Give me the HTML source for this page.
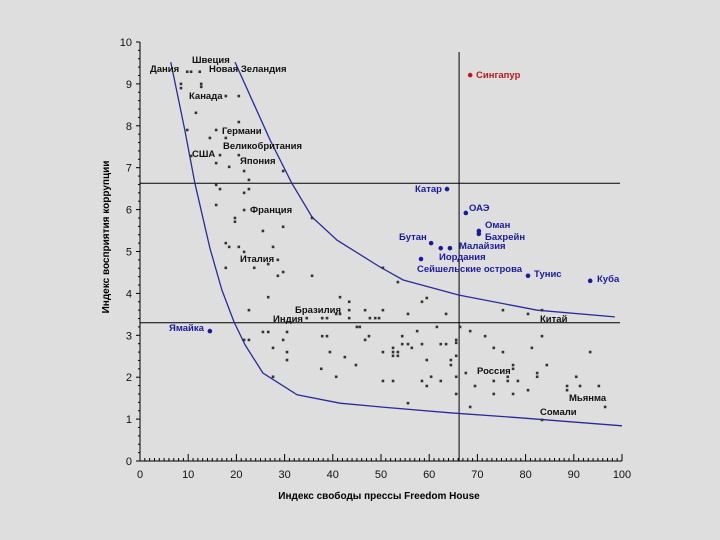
<!DOCTYPE html>
<html><head><meta charset="utf-8"><style>
html,body{margin:0;padding:0;background:#dedede;}
svg{display:block;font-family:"Liberation Sans",sans-serif;}
.lb{font-size:9.5px;font-weight:bold;fill:#111;}
.bl{font-size:9.5px;font-weight:bold;fill:#1a1aa0;}
.tk{font-size:11px;fill:#111;}
</style></head><body>
<svg id="chart" width="720" height="540" viewBox="0 0 720 540">
<rect x="0" y="0" width="720" height="540" fill="#dedede"/>
<g id="axes"></g><g id="curves"></g><g id="pts"></g>
<g>
<text class="lb" x="192" y="63">Швеция</text>
<text class="lb" x="150" y="72">Дания</text>
<text class="lb" x="209" y="72">Новая Зеландия</text>
<text class="lb" x="189" y="99">Канада</text>
<text class="lb" x="222" y="134">Германи</text>
<text class="lb" x="223" y="149">Великобритания</text>
<text class="lb" x="192" y="157">США</text>
<text class="lb" x="240" y="164">Япония</text>
<text class="lb" x="250" y="213">Франция</text>
<text class="lb" x="240" y="262">Италия</text>
<text class="lb" x="295" y="313">Бразилия</text>
<text class="lb" x="273" y="322">Индия</text>
<text class="lb" x="540" y="322">Китай</text>
<text class="lb" x="477" y="374">Россия</text>
<text class="lb" x="569" y="401">Мьянма</text>
<text class="lb" x="540" y="415">Сомали</text>
<text class="bl" x="476" y="78" style="fill:#c01818">Сингапур</text>
<text class="bl" x="415" y="192">Катар</text>
<text class="bl" x="469" y="211">ОАЭ</text>
<text class="bl" x="485" y="228">Оман</text>
<text class="bl" x="485" y="240">Бахрейн</text>
<text class="bl" x="399" y="240">Бутан</text>
<text class="bl" x="459" y="249">Малайзия</text>
<text class="bl" x="439" y="260">Иордания</text>
<text class="bl" x="417" y="272">Сейшельские острова</text>
<text class="bl" x="534" y="277">Тунис</text>
<text class="bl" x="597" y="282">Куба</text>
<text class="bl" x="169" y="331">Ямайка</text>
</g>
<text x="379" y="499" text-anchor="middle" style="font-size:10px;font-weight:bold">Индекс свободы прессы Freedom House</text>
<text transform="translate(109,237) rotate(-90)" text-anchor="middle" style="font-size:10px;font-weight:bold">Индекс восприятия коррупции</text>
</svg>
<script>
const xTicks=[0,10,20,30,40,50,60,70,80,90,100];
const yTicks=[0,1,2,3,4,5,6,7,8,9,10];
const refX=[66.2];
const refY=[6.63,3.3];
const leftCurveX=[6.4,9.3,11.4,14.5,17.0,19.5,21.8,25.5,32.6,41.5,49.8,64.3,78.8,100];
const leftCurveY=[9.52,7.9,6.63,5.08,4.08,3.32,2.77,2.10,1.58,1.38,1.29,1.15,1.03,0.84];
const rightCurveX=[19.7,27.0,31.5,35.7,40.9,49.8,54.6,66.2,82.4,98.5];
const rightCurveY=[9.52,7.66,6.63,5.82,5.27,4.63,4.32,3.96,3.60,3.44];
const ptsX=[9.8,10.6,12.4,8.5,8.5,12.7,12.7,17.8,20.5,11.6,9.8,15.8,20.5,14.5,17.8,10.6,16.6,15.8,20.5,18.5,21.6,29.7,22.6,15.8,16.6,22.6,21.6,15.8,21.6,35.7,19.7,19.7,25.5,29.7,17.8,18.5,20.5,27.6,21.6,28.6,17.8,23.7,26.6,29.7,28.6,35.7,26.6,41.5,43.4,22.6,43.4,40.7,41.5,46.7,34.6,37.8,38.8,43.4,47.7,48.8,49.6,25.5,26.6,30.5,21.6,22.6,29.7,37.8,38.8,45.0,45.6,46.7,47.5,27.6,30.5,39.4,30.5,42.5,44.8,37.6,40.7,27.6,50.4,53.5,58.5,59.5,50.4,55.6,63.5,75.3,80.5,83.4,61.6,66.4,68.5,71.6,57.5,54.4,83.4,65.6,65.6,54.4,55.6,58.5,62.4,63.5,56.4,73.4,81.3,50.4,52.5,52.5,52.5,53.5,53.5,75.3,65.6,93.4,59.5,64.5,64.5,77.4,84.4,77.4,67.6,82.4,82.4,76.3,76.3,60.4,90.5,50.4,52.5,58.5,62.4,73.4,78.4,59.5,65.6,69.5,88.6,88.6,91.3,95.2,80.5,65.6,73.4,77.4,55.6,68.5,96.5,83.4];
const ptsY=[9.29,9.29,9.29,9.00,8.90,9.00,8.93,8.71,8.71,8.31,7.90,7.90,8.09,7.71,7.71,7.28,7.30,7.11,7.30,7.02,6.92,6.92,6.71,6.59,6.49,6.49,6.40,6.11,5.99,5.80,5.80,5.71,5.49,5.59,5.20,5.11,5.11,5.11,4.99,4.80,4.61,4.61,4.70,4.51,4.42,4.42,3.91,3.91,3.80,3.60,3.60,3.51,3.51,3.60,3.41,3.41,3.41,3.41,3.41,3.41,3.41,3.08,3.08,3.08,2.89,2.89,2.89,2.98,2.98,3.20,3.20,2.89,2.98,2.70,2.60,2.60,2.41,2.48,2.29,2.20,2.01,2.01,4.61,4.27,3.80,3.89,3.60,3.51,3.51,3.60,3.51,3.60,3.20,3.20,3.10,2.98,3.10,2.98,2.98,2.89,2.82,2.79,2.79,2.79,2.79,2.79,2.70,2.70,2.70,2.60,2.70,2.60,2.51,2.60,2.51,2.60,2.51,2.60,2.41,2.41,2.29,2.29,2.29,2.20,2.10,2.10,2.01,2.01,1.91,2.01,2.01,1.91,1.91,1.91,1.91,1.91,1.91,1.79,2.01,1.79,1.79,1.69,1.79,1.79,1.69,1.60,1.60,1.60,1.38,1.29,1.29,0.98];
const hiX=[63.7,67.6,70.3,70.3,60.4,62.4,64.3,58.3,80.5,93.4,14.5];
const hiY=[6.49,5.92,5.49,5.42,5.20,5.08,5.08,4.82,4.42,4.30,3.10];
const sgX=[68.5];
const sgY=[9.21];

const NS="http://www.w3.org/2000/svg";
const X0=140,X1=622,Y0=461,Y1=42;
const sx=v=>X0+(v-0)/100*(X1-X0);
const sy=v=>Y0-(v-0)/10*(Y0-Y1);
function mk(tag,attrs,parent){const e=document.createElementNS(NS,tag);for(const k in attrs)e.setAttribute(k,attrs[k]);parent.appendChild(e);return e;}
const axes=document.getElementById('axes');
let e;
e=mk('line',{x1:X0,y1:Y1,x2:X0,y2:Y0,stroke:'#000','stroke-width':1},axes);


e=mk('line',{x1:X0,y1:Y0,x2:X1,y2:Y0,stroke:'#000','stroke-width':1},axes);


for(let i=0;i<=100;i++){
  if(i%10===0)continue;
  e=mk('line',{x1:sx(i),y1:Y0,x2:sx(i),y2:Y0-3,stroke:'#000','stroke-width':1},axes);
  
  
}
for(let i=0;i<=50;i++){
  if(i%5===0)continue;
  e=mk('line',{x1:X0,y1:sy(i/5),x2:X0-2,y2:sy(i/5),stroke:'#000','stroke-width':1},axes);
  
  
}
xTicks.forEach(t=>{
  e=mk('line',{x1:sx(t),y1:Y0,x2:sx(t),y2:Y0-7,stroke:'#000'},axes);
  
  
  e=mk('text',{x:sx(t),y:Y0+17,'text-anchor':'middle',class:'tk'},axes);
  e.textContent=t;
  
  
});
yTicks.forEach(t=>{
  e=mk('line',{x1:X0,y1:sy(t),x2:X0-4,y2:sy(t),stroke:'#000'},axes);
  
  
  e=mk('text',{x:X0-8,y:sy(t)+4,'text-anchor':'end',class:'tk'},axes);
  e.textContent=t;
  
  
});
refX.forEach(v=>{
  e=mk('line',{x1:sx(v),y1:Y1+10,x2:sx(v),y2:Y0,stroke:'#000'},axes);
  
  
});
refY.forEach(v=>{
  e=mk('line',{x1:X0,y1:sy(v),x2:X1-2,y2:sy(v),stroke:'#000'},axes);
  
  
});
const cg=document.getElementById('curves');
function curve(xs,ys,name){
  const d=xs.map((v,i)=>(i?'L':'M')+sx(v).toFixed(1)+','+sy(ys[i]).toFixed(1)).join(' ');
  const p=mk('path',{d:d,fill:'none',stroke:'#2a2a9a','stroke-width':1.3},cg);
  
  
}
curve(leftCurveX,leftCurveY,'lower-boundary-curve');
curve(rightCurveX,rightCurveY,'upper-boundary-curve');
const pg=document.getElementById('pts');
ptsX.forEach((v,i)=>{
  const r=mk('rect',{x:sx(v)-1.3,y:sy(ptsY[i])-1.3,width:2.6,height:2.6,fill:'#333'},pg);
  
  
});
hiX.forEach((v,i)=>{
  const c=mk('circle',{cx:sx(v),cy:sy(hiY[i]),r:2.3,fill:'#1a1aa0'},pg);
  
  
});
sgX.forEach((v,i)=>{
  const c=mk('circle',{cx:sx(v),cy:sy(sgY[i]),r:2.3,fill:'#c01818'},pg);
  
  
});
</script>
</body></html>
